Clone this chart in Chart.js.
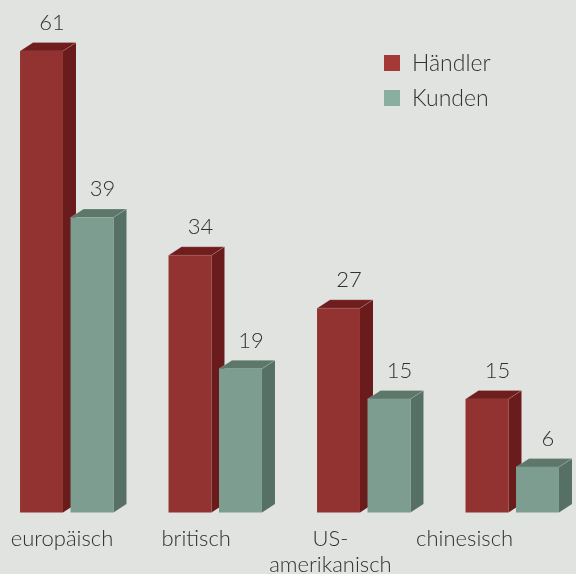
<!DOCTYPE html>
<html>
<head>
<meta charset="utf-8">
<script src="https://cdn.jsdelivr.net/npm/chart.js@4.4.1/dist/chart.umd.min.js"></script>
<style>
  html, body { margin: 0; padding: 0; background: #e1e3e0; }
  #wrap { width: 576px; height: 574px; }
</style>
</head>
<body>
<div id="wrap"><canvas id="chart" width="576" height="574"></canvas></div>
<script>
// --- Daten ---
const categories = ['europäisch', 'britisch', ['US-', 'amerikanisch'], 'chinesisch'];
const seriesNames = ['Händler', 'Kunden'];
const haendler = [61, 34, 27, 15];
const kunden = [39, 19, 15, 6];

// --- Stil ---
const FONT = '"Lato", "Noto Sans", sans-serif';
const TXT = '#303030';
const depth = { dx: 13, dy: -8.5 };
const faces = [
    { front: '#933331', top: '#6f1d1d', side: '#6a1b1b', legend: '#a33a38' },
    { front: '#7d9d90', top: '#5d776b', side: '#577065', legend: '#8aae9f' }
];
const indexTicks = s => { s.ticks = categories.map((c, i) => ({ value: i })); };

// 3D-Seiten und Deckel hinter den Frontflaechen zeichnen
const bars3d = {
    id: 'bars3d',
    beforeDatasetsDraw(chart) {
        const ctx = chart.ctx;
        const metas = chart.data.datasets.map((d, i) => chart.getDatasetMeta(i));
        ctx.save();
        categories.forEach((c, ci) => {
            metas.forEach((meta, di) => {
                const el = meta.data[ci];
                const { x, y, base, width } = el.getProps(['x', 'y', 'base', 'width'], true);
                const x0 = x - width / 2, x1 = x + width / 2;
                ctx.fillStyle = faces[di].side;
                ctx.beginPath();
                ctx.moveTo(x1, y);
                ctx.lineTo(x1 + depth.dx, y + depth.dy);
                ctx.lineTo(x1 + depth.dx, base + depth.dy);
                ctx.lineTo(x1, base);
                ctx.closePath();
                ctx.fill();
                ctx.fillStyle = faces[di].top;
                ctx.beginPath();
                ctx.moveTo(x0, y);
                ctx.lineTo(x1, y);
                ctx.lineTo(x1 + depth.dx, y + depth.dy);
                ctx.lineTo(x0 + depth.dx, y + depth.dy);
                ctx.closePath();
                ctx.fill();
                ctx.strokeStyle = 'rgba(255,255,255,0.18)';
                ctx.lineWidth = 1;
                ctx.stroke();
            });
        });
        ctx.restore();
    }
};

// Werte ueber den Balken
const valueLabels = {
    id: 'valueLabels',
    afterDatasetsDraw(chart) {
        const ctx = chart.ctx;
        ctx.save();
        ctx.font = '300 22px ' + FONT;
        ctx.fillStyle = TXT;
        ctx.textAlign = 'center';
        ctx.textBaseline = 'alphabetic';
        chart.data.datasets.forEach((ds, di) => {
            chart.getDatasetMeta(di).data.forEach((el, i) => {
                ctx.fillText(ds.data[i].y, el.x + 10.5, el.y - 21);
            });
        });
        ctx.restore();
    }
};

// Legende oben rechts
const cornerLegend = {
    id: 'cornerLegend',
    afterDraw(chart) {
        const ctx = chart.ctx;
        ctx.save();
        ctx.font = '300 23px ' + FONT;
        ctx.textBaseline = 'middle';
        ctx.textAlign = 'left';
        chart.data.datasets.forEach((ds, i) => {
            const cy = 63 + i * 35;
            ctx.fillStyle = faces[i].legend;
            ctx.fillRect(384, cy - 8, 16, 16);
            ctx.fillStyle = TXT;
            ctx.fillText(ds.label, 412, cy + 1);
        });
        ctx.restore();
    }
};

new Chart(document.getElementById('chart').getContext('2d'), {
    type: 'bar',
    data: {
        datasets: [
            { label: seriesNames[0], data: haendler.map((v, i) => ({ x: i, y: v })), backgroundColor: faces[0].front },
            { label: seriesNames[1], data: kunden.map((v, i) => ({ x: i, y: v })), backgroundColor: faces[1].front }
        ]
    },
    options: {
        responsive: false,
        animation: false,
        devicePixelRatio: 1,
        layout: { padding: 0 },
        datasets: { bar: { categoryPercentage: 0.68, barPercentage: 0.851, borderWidth: 0, clip: false } },
        plugins: { legend: { display: false }, tooltip: { enabled: false } },
        scales: {
            x: {
                type: 'linear', min: -0.44949, max: 3.42929, offset: false, bounds: 'data', display: false,
                afterBuildTicks: indexTicks
            },
            xl: {
                type: 'linear', position: 'bottom', min: -0.462, max: 3.8301, offset: false, bounds: 'data',
                grid: { display: false, drawTicks: false }, border: { display: false },
                afterBuildTicks: indexTicks,
                // volle Breite, kein Extra-Rand fuer die Beschriftungen
                afterFit: s => { s.height = 61.5; s.paddingLeft = 0; s.paddingRight = 0; },
                ticks: {
                    callback: v => categories[v], autoSkip: false, maxRotation: 0, minRotation: 0,
                    padding: 13, color: TXT, font: { family: FONT, size: 22, weight: 300, lineHeight: 1.2 }
                }
            },
            y: { min: 0, max: 67.75, display: false }
        }
    },
    plugins: [bars3d, valueLabels, cornerLegend]
});
</script>
</body>
</html>
